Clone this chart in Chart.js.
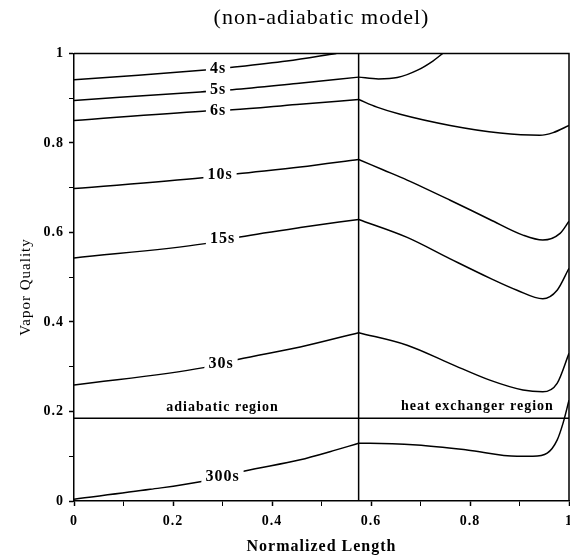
<!DOCTYPE html>
<html>
<head>
<meta charset="utf-8">
<script src="https://cdn.jsdelivr.net/npm/chart.js@4.4.0/dist/chart.umd.min.js"></script>
<style>
  html, body { margin: 0; padding: 0; background: #fff; }
  canvas { display: block; }
</style>
</head>
<body>
<canvas id="chart" width="570" height="559"></canvas>
<script>
// Vapor quality vs normalized length, non-adiabatic model
// Each curve is split at the region boundary: adiabatic part + heat exchanger part

var boundaryX = 0.575;
var liquidLineY = 0.185;

var c4sAdiabatic = [[0, 0.941], [0.13, 0.951], [0.265, 0.963], [0.32, 0.969], [0.43, 0.983], [0.53, 1.0]];

var c5sAdiabatic = [[0, 0.895], [0.255, 0.914], [0.32, 0.919], [0.45, 0.933], [0.575, 0.947]];
var c5sExchanger = [[0.575, 0.947], [0.615, 0.943], [0.653, 0.946], [0.693, 0.962], [0.725, 0.983], [0.745, 1.0]];

var c6sAdiabatic = [[0, 0.85], [0.26, 0.871], [0.32, 0.874], [0.45, 0.886], [0.575, 0.897]];
var c6sExchanger = [[0.575, 0.897], [0.612, 0.88], [0.659, 0.864], [0.76, 0.839], [0.861, 0.822], [0.941, 0.817], [0.968, 0.823], [1.0, 0.839]];

var c10sAdiabatic = [[0, 0.698], [0.26, 0.722], [0.33, 0.731], [0.457, 0.746], [0.575, 0.763]];
var c10sExchanger = [[0.575, 0.763], [0.624, 0.74], [0.673, 0.717], [0.76, 0.672], [0.84, 0.629], [0.907, 0.594], [0.947, 0.583], [0.982, 0.598], [1.0, 0.625]];

var c15sAdiabatic = [[0, 0.543], [0.265, 0.575], [0.335, 0.59], [0.457, 0.611], [0.575, 0.629]];
var c15sExchanger = [[0.575, 0.629], [0.673, 0.589], [0.76, 0.541], [0.84, 0.498], [0.895, 0.471], [0.947, 0.452], [0.976, 0.471], [1.0, 0.52]];

var c30sAdiabatic = [[0, 0.259], [0.262, 0.298], [0.331, 0.316], [0.457, 0.344], [0.575, 0.376]];
var c30sExchanger = [[0.575, 0.376], [0.673, 0.348], [0.76, 0.307], [0.84, 0.27], [0.907, 0.248], [0.947, 0.244], [0.976, 0.263], [1.0, 0.33]];

var c300sAdiabatic = [[0, 0.004], [0.154, 0.026], [0.255, 0.043], [0.345, 0.067], [0.457, 0.092], [0.517, 0.11], [0.575, 0.129]];
var c300sExchanger = [[0.575, 0.129], [0.598, 0.129], [0.693, 0.125], [0.794, 0.114], [0.895, 0.1], [0.927, 0.1], [0.956, 0.107], [0.976, 0.136], [0.988, 0.174], [1.0, 0.225]];

// inline curve labels (data coords)
var curveNames = ['4s', '5s', '6s', '10s', '15s', '30s', '300s'];
var curveLabelX = [0.291, 0.291, 0.291, 0.295, 0.3, 0.297, 0.3];
var curveLabelY = [0.966, 0.918, 0.872, 0.728, 0.585, 0.306, 0.054];

var regionNames = ['adiabatic region', 'heat exchanger region'];
var regionLabelX = [0.3, 0.815];
var regionLabelY = [0.21, 0.212];

var xTickLabels = ['0', '0.2', '0.4', '0.6', '0.8', '1'];

var serif = '"Liberation Serif", "DejaVu Serif", serif';

function toPoints(arr) {
  return arr.map(function(p) { return { x: p[0], y: p[1] }; });
}

function curve(arr) {
  return {
    data: toPoints(arr),
    showLine: true,
    borderColor: '#000',
    borderWidth: 1.5,
    pointRadius: 0,
    cubicInterpolationMode: 'monotone',
    fill: false
  };
}

var datasets = [
  c4sAdiabatic, c5sAdiabatic, c5sExchanger, c6sAdiabatic, c6sExchanger,
  c10sAdiabatic, c10sExchanger, c15sAdiabatic, c15sExchanger,
  c30sAdiabatic, c30sExchanger, c300sAdiabatic, c300sExchanger,
  [[boundaryX, 0], [boundaryX, 1]],
  [[0, liquidLineY], [1, liquidLineY]]
].map(curve);

var annotations = {
  id: 'annotations',
  beforeDraw: function(chart) {
    chart.ctx.letterSpacing = '1px';
  },
  afterDatasetsDraw: function(chart) {
    var ctx = chart.ctx;
    var xs = chart.scales.x;
    var ys = chart.scales.y;
    var a = chart.chartArea;
    ctx.save();

    // top and right frame
    ctx.strokeStyle = '#000';
    ctx.lineWidth = 1.5;
    ctx.beginPath();
    ctx.moveTo(a.left, a.top);
    ctx.lineTo(a.right, a.top);
    ctx.lineTo(a.right, a.bottom);
    ctx.stroke();

    ctx.textAlign = 'center';
    ctx.textBaseline = 'middle';

    // curve labels sit in a gap of the line
    ctx.font = 'bold 16px ' + serif;
    curveNames.forEach(function(name, i) {
      var px = xs.getPixelForValue(curveLabelX[i]);
      var py = ys.getPixelForValue(curveLabelY[i]);
      var w = ctx.measureText(name).width + 8;
      ctx.fillStyle = '#fff';
      ctx.fillRect(px - w / 2, py - 7, w, 14);
      ctx.fillStyle = '#000';
      ctx.fillText(name, px, py);
    });

    ctx.font = 'bold 14px ' + serif;
    regionNames.forEach(function(name, i) {
      ctx.fillText(name, xs.getPixelForValue(regionLabelX[i]), ys.getPixelForValue(regionLabelY[i]));
    });

    // y axis title
    ctx.font = '15px ' + serif;
    ctx.translate(26, ys.getPixelForValue(0.478));
    ctx.rotate(-Math.PI / 2);
    ctx.fillText('Vapor Quality', 0, 0);

    ctx.restore();
  }
};

new Chart(document.getElementById('chart'), {
  type: 'scatter',
  data: { datasets: datasets },
  options: {
    responsive: false,
    animation: false,
    layout: { padding: { top: 0, right: 1, bottom: 0, left: 0 } },
    plugins: {
      legend: { display: false },
      tooltip: { enabled: false },
      title: {
        display: true,
        fullSize: false,
        text: '(non-adiabatic model)',
        color: '#000',
        font: { family: serif, size: 22, weight: 'normal' },
        padding: { top: 5, bottom: 22 }
      }
    },
    scales: {
      x: {
        type: 'linear',
        min: 0,
        max: 1,
        afterFit: function(s) { s.height = 58; s.paddingLeft = 0; s.paddingRight = 0; },
        border: { display: true, color: '#000', width: 1.5 },
        grid: {
          drawOnChartArea: false,
          drawTicks: true,
          tickLength: 5,
          color: '#000',
          tickWidth: function(c) { return Math.round(c.tick.value * 10) % 2 === 0 ? 1.5 : 1; }
        },
        ticks: {
          stepSize: 0.1,
          autoSkip: false,
          maxRotation: 0,
          padding: 7,
          color: '#000',
          font: { family: serif, size: 14, weight: 'bold' },
          callback: function(v) {
            var k = Math.round(v * 10);
            return k % 2 === 0 ? xTickLabels[k / 2] : '';
          }
        },
        title: {
          display: true,
          text: 'Normalized Length',
          color: '#000',
          font: { family: serif, size: 16, weight: 'bold' },
          padding: { top: 0, bottom: 3 }
        }
      },
      y: {
        type: 'linear',
        min: 0,
        max: 1,
        afterFit: function(s) { s.width = 74; s.paddingTop = 0; s.paddingBottom = 0; },
        border: { display: true, color: '#000', width: 1.5 },
        grid: {
          drawOnChartArea: false,
          drawTicks: true,
          tickLength: 5,
          color: '#000',
          tickWidth: function(c) { return Math.round(c.tick.value * 10) % 2 === 0 ? 1.5 : 1; }
        },
        ticks: {
          stepSize: 0.1,
          autoSkip: false,
          padding: 5,
          color: '#000',
          font: { family: serif, size: 14, weight: 'bold' },
          callback: function(v) {
            var k = Math.round(v * 10);
            return k % 2 === 0 ? xTickLabels[k / 2] : '';
          }
        }
      }
    }
  },
  plugins: [annotations]
});
</script>
</body>
</html>
